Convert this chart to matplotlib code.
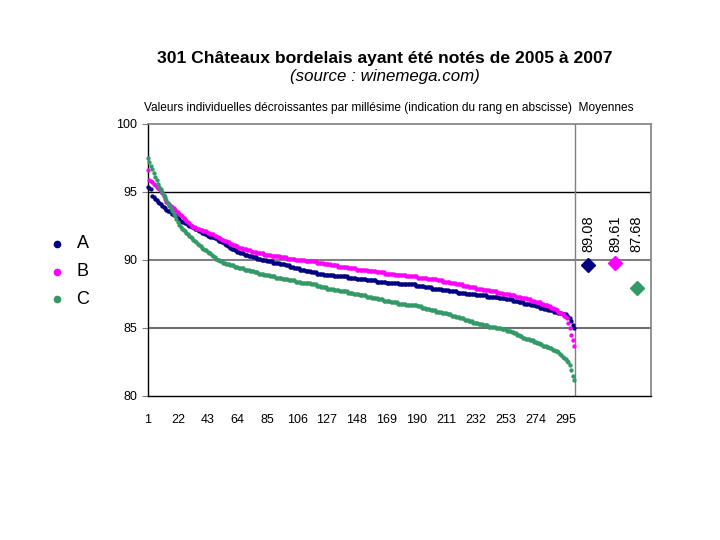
import matplotlib
matplotlib.use("Agg")
import matplotlib.pyplot as plt
from matplotlib.lines import Line2D

plt.rcParams['font.family'] = ['Liberation Sans', 'DejaVu Sans']

# Sorted individual scores per vintage (rank 1..301)
series_names = ["A", "B", "C"]

scores_a = [
    95.4, 95.3, 95.2, 94.7, 94.6, 94.5, 94.4, 94.3, 94.2, 94.1,
    94.0, 93.9, 93.8, 93.7, 93.6, 93.6, 93.5, 93.4, 93.3, 93.3,
    93.2, 93.1, 93.0, 92.9, 92.8, 92.8, 92.7, 92.7, 92.6, 92.5,
    92.5, 92.4, 92.4, 92.3, 92.3, 92.2, 92.1, 92.1, 92.0, 92.0,
    91.9, 91.9, 91.8, 91.8, 91.7, 91.7, 91.7, 91.6, 91.6, 91.5,
    91.4, 91.4, 91.3, 91.3, 91.2, 91.1, 91.0, 91.0, 90.9, 90.8,
    90.8, 90.7, 90.7, 90.6, 90.6, 90.5, 90.5, 90.5, 90.4, 90.4,
    90.4, 90.3, 90.3, 90.3, 90.2, 90.2, 90.2, 90.1, 90.1, 90.1,
    90.0, 90.0, 90.0, 90.0, 89.9, 89.9, 89.9, 89.9, 89.8, 89.8,
    89.8, 89.8, 89.8, 89.7, 89.7, 89.7, 89.7, 89.6, 89.6, 89.6,
    89.5, 89.5, 89.5, 89.4, 89.4, 89.4, 89.4, 89.3, 89.3, 89.3,
    89.3, 89.2, 89.2, 89.2, 89.2, 89.1, 89.1, 89.1, 89.1, 89.0,
    89.0, 89.0, 89.0, 89.0, 88.9, 88.9, 88.9, 88.9, 88.9, 88.9,
    88.9, 88.8, 88.8, 88.8, 88.8, 88.8, 88.8, 88.8, 88.8, 88.8,
    88.8, 88.7, 88.7, 88.7, 88.7, 88.7, 88.7, 88.6, 88.6, 88.6,
    88.6, 88.6, 88.6, 88.6, 88.5, 88.5, 88.5, 88.5, 88.5, 88.5,
    88.5, 88.4, 88.4, 88.4, 88.4, 88.4, 88.4, 88.4, 88.3, 88.3,
    88.3, 88.3, 88.3, 88.3, 88.3, 88.3, 88.3, 88.2, 88.2, 88.2,
    88.2, 88.2, 88.2, 88.2, 88.2, 88.2, 88.2, 88.2, 88.2, 88.1,
    88.1, 88.1, 88.1, 88.1, 88.1, 88.0, 88.0, 88.0, 88.0, 88.0,
    87.9, 87.9, 87.9, 87.9, 87.9, 87.9, 87.9, 87.8, 87.8, 87.8,
    87.8, 87.8, 87.7, 87.7, 87.7, 87.7, 87.7, 87.7, 87.6, 87.6,
    87.6, 87.6, 87.6, 87.6, 87.5, 87.5, 87.5, 87.5, 87.5, 87.5,
    87.5, 87.4, 87.4, 87.4, 87.4, 87.4, 87.4, 87.4, 87.4, 87.3,
    87.3, 87.3, 87.3, 87.3, 87.3, 87.3, 87.3, 87.2, 87.2, 87.2,
    87.2, 87.2, 87.1, 87.1, 87.1, 87.1, 87.1, 87.0, 87.0, 87.0,
    87.0, 86.9, 86.9, 86.9, 86.9, 86.8, 86.8, 86.8, 86.8, 86.8,
    86.7, 86.7, 86.7, 86.6, 86.6, 86.6, 86.5, 86.5, 86.5, 86.4,
    86.4, 86.4, 86.3, 86.3, 86.3, 86.3, 86.2, 86.2, 86.2, 86.1,
    86.1, 86.1, 86.0, 86.0, 86.0, 85.9, 85.8, 85.7, 85.5, 85.2,
    85.0,
]

scores_b = [
    96.6, 95.9, 95.8, 95.7, 95.6, 95.5, 95.4, 95.3, 95.2, 95.1,
    94.9, 94.7, 94.5, 94.3, 94.2, 94.1, 94.0, 93.9, 93.8, 93.7,
    93.6, 93.5, 93.4, 93.3, 93.2, 93.1, 93.0, 92.9, 92.8, 92.7,
    92.6, 92.5, 92.4, 92.4, 92.3, 92.3, 92.3, 92.2, 92.2, 92.1,
    92.1, 92.1, 92.0, 92.0, 91.9, 91.9, 91.9, 91.8, 91.8, 91.7,
    91.6, 91.6, 91.5, 91.5, 91.4, 91.4, 91.3, 91.3, 91.2, 91.2,
    91.1, 91.1, 91.0, 91.0, 90.9, 90.9, 90.9, 90.8, 90.8, 90.8,
    90.7, 90.7, 90.7, 90.6, 90.6, 90.6, 90.6, 90.5, 90.5, 90.5,
    90.5, 90.5, 90.4, 90.4, 90.4, 90.4, 90.4, 90.3, 90.3, 90.3,
    90.3, 90.3, 90.3, 90.2, 90.2, 90.2, 90.2, 90.2, 90.1, 90.1,
    90.1, 90.1, 90.1, 90.1, 90.0, 90.0, 90.0, 90.0, 90.0, 90.0,
    90.0, 89.9, 89.9, 89.9, 89.9, 89.9, 89.9, 89.9, 89.9, 89.8,
    89.8, 89.8, 89.8, 89.8, 89.7, 89.7, 89.7, 89.7, 89.7, 89.6,
    89.6, 89.6, 89.6, 89.6, 89.5, 89.5, 89.5, 89.5, 89.5, 89.5,
    89.5, 89.4, 89.4, 89.4, 89.4, 89.4, 89.4, 89.3, 89.3, 89.3,
    89.3, 89.3, 89.3, 89.3, 89.3, 89.2, 89.2, 89.2, 89.2, 89.2,
    89.2, 89.1, 89.1, 89.1, 89.1, 89.1, 89.1, 89.0, 89.0, 89.0,
    89.0, 89.0, 89.0, 89.0, 88.9, 88.9, 88.9, 88.9, 88.9, 88.9,
    88.9, 88.9, 88.8, 88.8, 88.8, 88.8, 88.8, 88.8, 88.8, 88.8,
    88.7, 88.7, 88.7, 88.7, 88.7, 88.7, 88.7, 88.6, 88.6, 88.6,
    88.6, 88.6, 88.6, 88.6, 88.5, 88.5, 88.5, 88.5, 88.4, 88.4,
    88.4, 88.4, 88.4, 88.3, 88.3, 88.3, 88.3, 88.2, 88.2, 88.2,
    88.2, 88.2, 88.1, 88.1, 88.1, 88.1, 88.0, 88.0, 88.0, 88.0,
    88.0, 87.9, 87.9, 87.9, 87.9, 87.9, 87.8, 87.8, 87.8, 87.8,
    87.8, 87.7, 87.7, 87.7, 87.7, 87.7, 87.6, 87.6, 87.6, 87.6,
    87.5, 87.5, 87.5, 87.5, 87.5, 87.4, 87.4, 87.4, 87.4, 87.3,
    87.3, 87.3, 87.3, 87.2, 87.2, 87.2, 87.2, 87.1, 87.1, 87.1,
    87.0, 87.0, 87.0, 86.9, 86.9, 86.9, 86.9, 86.8, 86.8, 86.7,
    86.7, 86.7, 86.6, 86.6, 86.5, 86.5, 86.4, 86.4, 86.3, 86.2,
    86.1, 86.1, 86.0, 85.9, 85.8, 85.7, 85.4, 85.0, 84.5, 84.1,
    83.7,
]

scores_c = [
    97.5, 97.2, 96.9, 96.7, 96.4, 96.1, 95.9, 95.6, 95.4, 95.2,
    95.0, 94.8, 94.6, 94.4, 94.2, 94.0, 93.8, 93.6, 93.4, 93.2,
    93.0, 92.8, 92.6, 92.4, 92.3, 92.2, 92.1, 92.0, 91.9, 91.8,
    91.7, 91.6, 91.5, 91.4, 91.3, 91.2, 91.1, 91.0, 90.9, 90.8,
    90.7, 90.7, 90.6, 90.5, 90.5, 90.4, 90.3, 90.2, 90.1, 90.0,
    90.0, 89.9, 89.9, 89.8, 89.8, 89.7, 89.7, 89.7, 89.6, 89.6,
    89.6, 89.5, 89.5, 89.5, 89.4, 89.4, 89.4, 89.4, 89.3, 89.3,
    89.3, 89.3, 89.2, 89.2, 89.2, 89.1, 89.1, 89.1, 89.0, 89.0,
    89.0, 89.0, 88.9, 88.9, 88.9, 88.9, 88.8, 88.8, 88.8, 88.8,
    88.7, 88.7, 88.7, 88.7, 88.7, 88.6, 88.6, 88.6, 88.6, 88.5,
    88.5, 88.5, 88.5, 88.5, 88.4, 88.4, 88.4, 88.4, 88.3, 88.3,
    88.3, 88.3, 88.3, 88.3, 88.3, 88.2, 88.2, 88.2, 88.2, 88.1,
    88.1, 88.1, 88.0, 88.0, 88.0, 88.0, 87.9, 87.9, 87.9, 87.9,
    87.9, 87.8, 87.8, 87.8, 87.8, 87.7, 87.7, 87.7, 87.7, 87.7,
    87.7, 87.6, 87.6, 87.6, 87.6, 87.5, 87.5, 87.5, 87.5, 87.4,
    87.4, 87.4, 87.4, 87.4, 87.3, 87.3, 87.3, 87.3, 87.2, 87.2,
    87.2, 87.2, 87.1, 87.1, 87.1, 87.1, 87.0, 87.0, 87.0, 87.0,
    87.0, 86.9, 86.9, 86.9, 86.9, 86.9, 86.8, 86.8, 86.8, 86.8,
    86.8, 86.8, 86.7, 86.7, 86.7, 86.7, 86.7, 86.7, 86.7, 86.7,
    86.6, 86.6, 86.6, 86.5, 86.5, 86.5, 86.4, 86.4, 86.4, 86.3,
    86.3, 86.3, 86.3, 86.2, 86.2, 86.2, 86.2, 86.1, 86.1, 86.1,
    86.1, 86.0, 86.0, 86.0, 85.9, 85.9, 85.9, 85.8, 85.8, 85.8,
    85.7, 85.7, 85.7, 85.6, 85.6, 85.6, 85.5, 85.5, 85.5, 85.4,
    85.4, 85.4, 85.4, 85.3, 85.3, 85.3, 85.2, 85.2, 85.2, 85.2,
    85.1, 85.1, 85.1, 85.1, 85.1, 85.0, 85.0, 85.0, 85.0, 84.9,
    84.9, 84.9, 84.9, 84.8, 84.8, 84.8, 84.7, 84.7, 84.6, 84.6,
    84.5, 84.5, 84.4, 84.4, 84.3, 84.3, 84.2, 84.2, 84.2, 84.1,
    84.1, 84.1, 84.0, 84.0, 83.9, 83.9, 83.8, 83.8, 83.7, 83.7,
    83.7, 83.6, 83.6, 83.5, 83.5, 83.4, 83.4, 83.3, 83.3, 83.2,
    83.1, 83.0, 82.9, 82.8, 82.7, 82.6, 82.5, 82.3, 81.9, 81.5,
    81.2,
]

# Averages ("Moyennes"): marker heights as drawn, and the printed labels
avg_x = [311, 330, 345]
avg_values = [89.6, 89.75, 87.92]
avg_labels = ["89.08", "89.61", "87.68"]

colors = ["#000080", "#FF00FF", "#339966"]
ranks = list(range(1, 302))
xtick_vals = list(range(1, 296, 21))

fig = plt.figure(figsize=(7.2, 5.4), dpi=100)
ax = fig.add_axes([148 / 720, 1 - 396 / 540, 503 / 720, 272 / 540])

# grid lines
ax.axhline(95, color="black", lw=1, zorder=1)
ax.axhline(90, color="#808080", lw=1.5, zorder=1)
ax.axhline(85, color="#707070", lw=1.5, zorder=1)
ax.axvline(301.5, color="#808080", lw=1, zorder=1)

for vals, col in zip([scores_a, scores_b, scores_c], colors):
    ax.plot(ranks, vals, linestyle="none", marker="o", ms=3.1,
            mec=col, mfc=col, mew=0, color=col, zorder=3, clip_on=False)

for xv, yv, lab, col in zip(avg_x, avg_values, avg_labels, colors):
    ax.plot([xv], [yv], linestyle="none", marker="D", ms=7.5,
            color=col, mec=col, zorder=4)
    ax.text(xv, 90.6, lab, rotation=90, ha="center", va="bottom",
            fontsize=10.5, color="black")

ax.set_xlim(1, 355.2)
ax.set_ylim(80, 100)
ax.set_yticks([80, 85, 90, 95, 100])
ax.set_yticklabels(["80", "85", "90", "95", "100"], fontsize=9)
ax.set_xticks(xtick_vals)
ax.set_xticklabels([str(v) for v in xtick_vals], fontsize=9)
ax.tick_params(axis="x", length=0, pad=13)
ax.tick_params(axis="y", length=4, direction="out", color="#808080", pad=4)

for side in ["top", "right"]:
    ax.spines[side].set_color("#808080")
    ax.spines[side].set_linewidth(1.2)
for side in ["left", "bottom"]:
    ax.spines[side].set_color("black")
    ax.spines[side].set_linewidth(1)

# titles
fig.text(385 / 720, 1 - 59 / 540, "301 Châteaux bordelais ayant été notés de 2005 à 2007",
         ha="center", va="center", fontsize=12.6, fontweight="bold")
fig.text(385 / 720, 1 - 76 / 540, "(source : winemega.com)",
         ha="center", va="center", fontsize=12.2, style="italic")
fig.text(389 / 720, 1 - 108 / 540,
         "Valeurs individuelles décroissantes par millésime (indication du rang en abscisse)  Moyennes",
         ha="center", va="center", fontsize=8.6)

# legend on the left
for i, (name, col) in enumerate(zip(series_names, colors)):
    yy = 1 - (244 + i * 27.7) / 540
    fig.add_artist(Line2D([57 / 720], [yy], transform=fig.transFigure,
                          marker="o", ms=4.5, color=col, linestyle="none"))
    fig.text(83 / 720, yy, name, ha="center", va="center", fontsize=13)

fig.savefig("out.png", dpi=100)
